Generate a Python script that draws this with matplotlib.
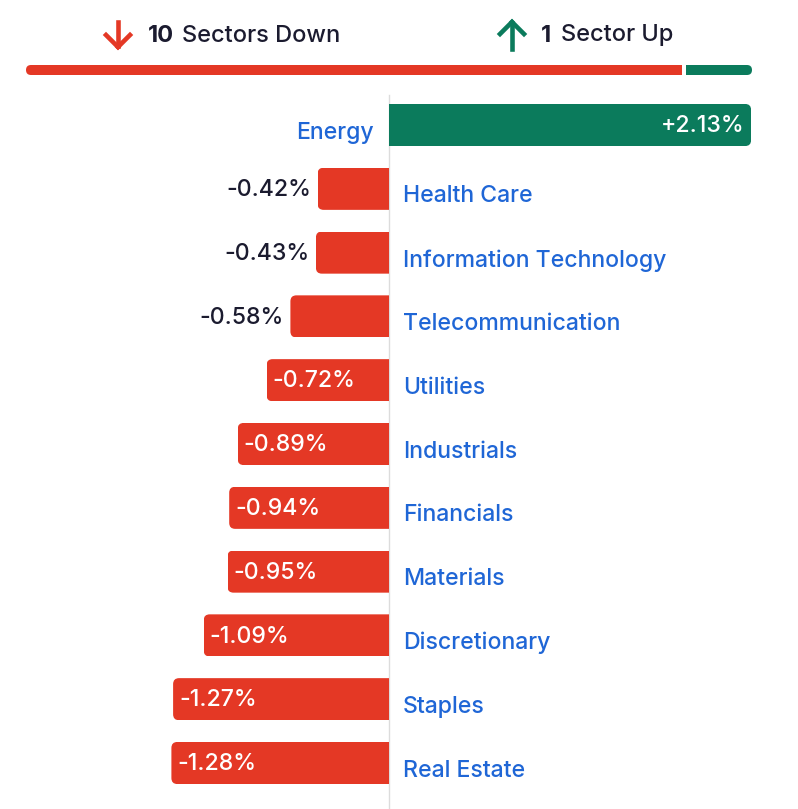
import matplotlib
matplotlib.use("Agg")
import matplotlib.pyplot as plt
from matplotlib.patches import FancyBboxPatch
from matplotlib.lines import Line2D

plt.rcParams['font.family'] = ['Inter', 'DejaVu Sans']
plt.rcParams['font.weight'] = 500

sectors = ['Energy', 'Health Care', 'Information Technology', 'Telecommunication',
           'Utilities', 'Industrials', 'Financials', 'Materials', 'Discretionary',
           'Staples', 'Real Estate']
changes = [2.13, -0.42, -0.43, -0.58, -0.72, -0.89, -0.94, -0.95, -1.09, -1.27, -1.28]
n_down = 10
n_up = 1

red = '#e43825'
green = '#0b7b5c'
blue = '#1f66d6'
ink = '#1b1b2f'

W, H = 798, 809
fig = plt.figure(figsize=(W / 100, H / 100), dpi=100)

# main bars: zero line at x=389px, 170px per 1%
ax = fig.add_axes([0, 0, 1, 1])
ax.set_xlim(-389 / 170, (W - 389) / 170)
ax.set_ylim((H - 125) / 63.8, -125 / 63.8)
ax.axis('off')

ypos = list(range(len(sectors)))
colors = [green if v > 0 else red for v in changes]
bars = ax.barh(ypos, changes, height=0.66, color=colors, zorder=2)

# rounded outer ends only
rx = 6 / 170
for rect, v in zip(bars, changes):
    y0 = rect.get_y()
    h = rect.get_height()
    if v < 0:
        x0, w = v, -v + 0.2
    else:
        x0, w = -0.2, v + 0.2
    clip = FancyBboxPatch((x0, y0), w, h, boxstyle=f"round,pad=0,rounding_size={rx}",
                          mutation_aspect=170 / 63.8, transform=ax.transData)
    rect.set_clip_path(clip)

ax.plot([0, 0], [-0.47, (H - 125) / 63.8], color='#dcdcdc', lw=1, zorder=1)

fs = 16.6
for y, name, v in zip(ypos, sectors, changes):
    lbl = f"{v:+.2f}%"
    if v > 0:
        ax.text(v - 0.04, y + 0.02, lbl, color='white', fontsize=fs, ha='right', va='center', zorder=3)
        ax.text(-15 / 170, y + 0.12, name, color=blue, fontsize=fs, ha='right', va='center')
    else:
        if abs(v) < 0.65:
            ax.text(v - 0.04, y + 0.02, lbl, color=ink, fontsize=fs, ha='right', va='center', zorder=3)
        else:
            ax.text(v + 0.035, y + 0.02, lbl, color='white', fontsize=fs, ha='left', va='center', zorder=3)
        ax.text(14 / 170, y + 0.12, name, color=blue, fontsize=fs, ha='left', va='center')

# header summary bar
hx0, hx1 = 26, 752
hy0, hy1 = H - 75, H - 65
hax = fig.add_axes([hx0 / W, hy0 / H, (hx1 - hx0) / W, (hy1 - hy0) / H])
hax.set_xlim(0, n_down + n_up)
hax.set_ylim(0, 1)
hax.axis('off')
gap = 4 / 66
segs = hax.barh([0.5, 0.5], [n_down - gap, n_up], left=[0, n_down], height=1,
                color=[red, green], linewidth=0)
hclip = FancyBboxPatch((hx0 / 100, hy0 / 100), (hx1 - hx0) / 100, (hy1 - hy0) / 100,
                       boxstyle="round,pad=0,rounding_size=0.05", transform=fig.dpi_scale_trans)
for s in segs:
    s.set_clip_path(hclip)


def arrow(x, ytail, ytip, color):
    # shaft plus chevron head, in pixel coords
    hw, hl = 12, 12
    d = 1 if ytip > ytail else -1
    segs_px = [[(x, ytail), (x, ytip - d * 1.5)],
               [(x - hw, ytip - d * hl), (x, ytip)],
               [(x + hw, ytip - d * hl), (x, ytip)]]
    for (xa, ya), (xb, yb) in segs_px:
        fig.add_artist(Line2D([xa / W, xb / W], [1 - ya / H, 1 - yb / H], color=color,
                              lw=3.3, solid_capstyle='projecting', solid_joinstyle='miter',
                              transform=fig.transFigure))


arrow(118, 22, 47, red)
arrow(512, 49, 22, green)

ty = 1 - 35.5 / H
hfs = 17.0
fig.text(148 / W, ty, str(n_down), color=ink, fontsize=hfs, fontweight='bold', ha='left', va='center')
fig.text(182 / W, ty, 'Sectors Down', color=ink, fontsize=hfs, ha='left', va='center')
fig.text(541 / W, ty, str(n_up), color=ink, fontsize=hfs, fontweight='bold', ha='left', va='center')
fig.text(561 / W, ty, 'Sector Up', color=ink, fontsize=hfs, ha='left', va='center')

fig.savefig('out.png', dpi=100, facecolor='white')
